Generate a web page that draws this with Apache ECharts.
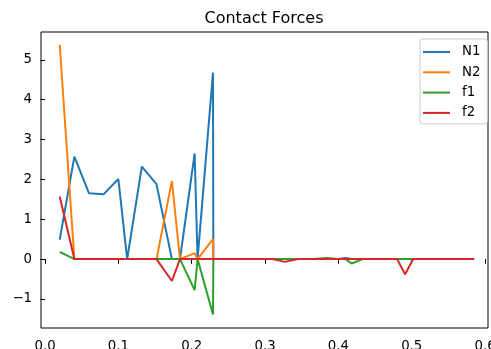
<!DOCTYPE html>
<html>
<head>
<meta charset="utf-8">
<script src="https://cdn.jsdelivr.net/npm/echarts@6/dist/echarts.min.js"></script>
<style>
html,body{margin:0;padding:0;background:#fff;}
#c{width:491px;height:349px;}
</style>
</head>
<body>
<div id="c"></div>
<script>
var seriesNames = ['N1', 'N2', 'f1', 'f2'];
var t = [0.02,0.04,0.06,0.08,0.10,0.112,0.132,0.152,0.173,0.184,0.204,0.208,0.229,0.2295,
  0.25,0.27,0.29,0.31,0.327,0.345,0.365,0.384,0.40,0.41,0.418,0.433,0.45,0.465,0.48,0.491,0.502,0.52,0.54,0.56,0.585];
var N1 = [0.49,2.57,1.65,1.63,2.01,0,2.32,1.88,0,0,2.65,0,4.68,0,
  0,0,0,0,0,0,0,0,0,0.03,0,0,0,0,0,0,0,0,0,0,0];
var N2 = [5.38,0,0,0,0,0,0,0,1.96,0,0.15,0,0.50,0,
  0,0,0,0,0,0,0,0,0,0,0,0,0,0,0,0,0,0,0,0,0];
var f1 = [0.18,0,0,0,0,0,0,0,0,0,-0.78,0,-1.39,0,
  0,0,0,0,0,0,0,0.03,0,0,-0.11,0,0,0,0,0,0,0,0,0,0];
var f2 = [1.57,0,0,0,0,0,0,0,-0.55,0,0,0,0,0,
  0,0,0,0,-0.07,0,0,0,0,0,0,0,0,0,0,-0.38,0,0,0,0,0];
var xTicks = [0,0.1,0.2,0.3,0.4,0.5,0.6];
var yTicks = [-1,0,1,2,3,4,5];
var colors = ['#1f77b4','#ff7f0e','#2ca02c','#d62728'];

function pairs(ys){ return t.map(function(x,i){ return [x, ys[i]]; }); }
var allY = [N1, N2, f1, f2];

var chart = echarts.init(document.getElementById('c'), null, {renderer:'canvas'});
var font = 'DejaVu Sans';
chart.setOption({
  animation: false,
  backgroundColor: '#fff',
  title: {
    text: 'Contact Forces', left: 264, textAlign: 'center', top: 11, padding: 0,
    textStyle: {fontFamily: font, fontSize: 16, fontWeight: 'normal', color: '#000', lineHeight: 16}
  },
  grid: {left: 41, top: 32, right: 3, bottom: 21, show: true, borderColor: '#000', borderWidth: 1,
    backgroundColor: 'transparent', containLabel: false, outerBoundsMode: 'none'},
  legend: {
    orient: 'vertical', left: 420, top: 39,
    padding: [5, 7, 3, 3],
    itemWidth: 27, itemHeight: 2, itemGap: 4.3, icon: 'rect',
    backgroundColor: 'rgba(255,255,255,0.8)', borderColor: '#cccccc', borderWidth: 1, borderRadius: 3,
    textStyle: {fontFamily: font, fontSize: 13.3, color: '#000', lineHeight: 16, padding: [0,0,0,7]},
    data: seriesNames
  },
  xAxis: {
    type: 'value', min: -0.0055, max: 0.604,
    axisLine: {show: false},
    splitLine: {show: false},
    axisTick: {show: true, length: 4.7, customValues: xTicks, lineStyle: {color: '#000', width: 1}},
    axisLabel: {customValues: xTicks, margin: 12, fontFamily: font, fontSize: 13.3, color: '#000',
      formatter: function(v){ return v.toFixed(1); }}
  },
  yAxis: {
    type: 'value', min: -1.73, max: 5.70,
    axisLine: {show: false},
    splitLine: {show: false},
    axisTick: {show: true, length: 4.7, customValues: yTicks, lineStyle: {color: '#000', width: 1}},
    axisLabel: {customValues: yTicks, margin: 9, fontFamily: font, fontSize: 13.3, color: '#000',
      formatter: function(v){ return v < 0 ? '\u2212' + Math.abs(v) : String(v); }}
  },
  series: seriesNames.map(function(n, i){
    return {
      name: n, type: 'line', data: pairs(allY[i]), showSymbol: false, symbol: 'none',
      lineStyle: {color: colors[i], width: 2}, itemStyle: {color: colors[i]},
      emphasis: {disabled: true}
    };
  })
});
</script>
</body>
</html>
